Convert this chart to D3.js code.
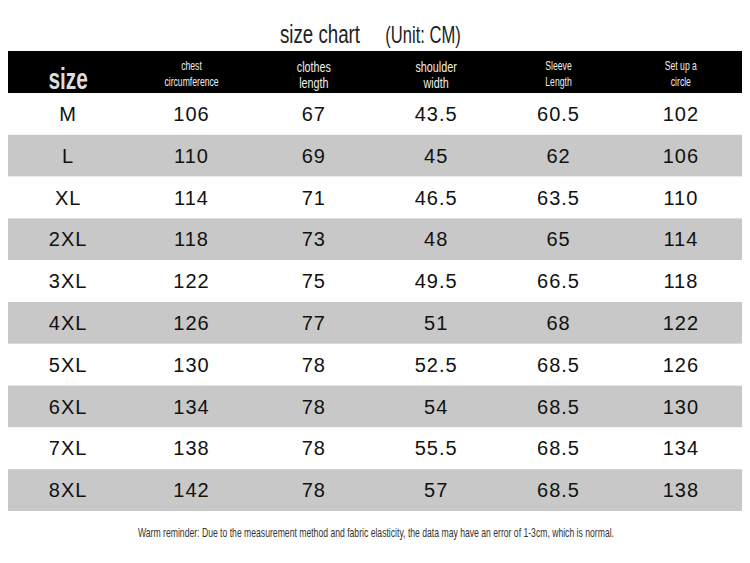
<!DOCTYPE html>
<html><head><meta charset="utf-8">
<script src="https://cdn.jsdelivr.net/npm/d3@7"></script>
<style>body{margin:0;background:#fff}</style>
</head><body>
<svg id="chart" width="750" height="563"></svg>
<script>
const sizes = ["M", "L", "XL", "2XL", "3XL", "4XL", "5XL", "6XL", "7XL", "8XL"];
const headers = [["size"], ["chest", "circumference"], ["clothes", "length"], ["shoulder", "width"], ["Sleeve", "Length"], ["Set up a", "circle"]];
const chest = [106, 110, 114, 118, 122, 126, 130, 134, 138, 142];
const length = [67, 69, 71, 73, 75, 77, 78, 78, 78, 78];
const shoulder = ["43.5", "45", "46.5", "48", "49.5", "51", "52.5", "54", "55.5", "57"];
const sleeve = ["60.5", "62", "63.5", "65", "66.5", "68", "68.5", "68.5", "68.5", "68.5"];
const circle = [102, 106, 110, 114, 118, 122, 126, 130, 134, 138];

const svg = d3.select("#chart");
const x = d3.scaleBand().domain(d3.range(6)).range([8, 742]);
const y = d3.scaleBand().domain(sizes).range([93, 511]);

// condensed text: squeeze horizontally since no narrow font is installed
function narrowText(cx, cy, size, fill, lines, gap, weight) {
	const g = svg.append("g").attr("transform", `translate(${cx},${cy}) scale(0.72,1)`);
	const t = g.append("text").attr("text-anchor", "middle")
		.attr("font-family", "'Liberation Sans', Arial, sans-serif")
		.attr("font-size", size).attr("fill", fill).attr("font-weight", weight || "normal");
	lines.forEach((line, k) => t.append("tspan").attr("x", 0).attr("y", k * gap).text(line));
}

narrowText(320, 43, 26, "#222", ["size chart"], 0);
narrowText(423, 43, 23, "#222", ["(Unit: CM)"], 0);

svg.append("rect").attr("x", 8).attr("y", 51).attr("width", 734).attr("height", 42).attr("fill", "#000");
headers.forEach((h, i) => {
	const cx = x(i) + x.bandwidth() / 2;
	if (h.length === 1) {
		narrowText(cx - 1, 89, 29, "#ddd", h, 0, "bold");
		return;
	}
	const big = i === 2 || i === 3;
	narrowText(cx, big ? 72 : 70, big ? 15 : 12, "#eee", h, 16);
});

const cols = [sizes, chest, length, shoulder, sleeve, circle];
sizes.forEach((s, r) => {
	svg.append("rect").attr("x", 8).attr("y", y(s)).attr("width", 734).attr("height", y.bandwidth())
		.attr("fill", r % 2 ? "#c8c8c8" : "#fff");
	cols.forEach((c, i) => {
		svg.append("text").attr("x", x(i) + x.bandwidth() / 2 - (i === 0 ? 1 : 0))
			.attr("y", y(s) + y.bandwidth() / 2 + 7).attr("text-anchor", "middle")
			.attr("font-family", "'Liberation Sans', Arial, sans-serif").attr("font-size", 20)
			.attr("letter-spacing", 1).attr("fill", "#111").text(c[r]);
	});
});

narrowText(376, 537, 12, "#333",
	["Warm reminder: Due to the measurement method and fabric elasticity, the data may have an error of 1-3cm, which is normal."], 0);
</script>
</body></html>
